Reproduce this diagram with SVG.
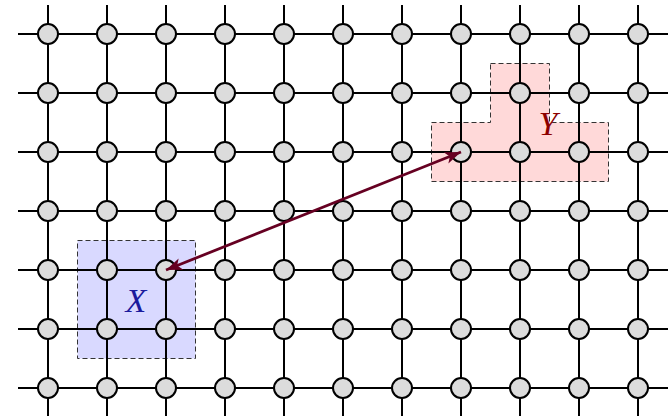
<svg xmlns="http://www.w3.org/2000/svg" width="671" height="416" viewBox="0 0 671 416">
<style>
.g{stroke:#000;stroke-width:2;fill:none}
.n{fill:#dcdcdc;stroke:#000;stroke-width:2}
.box{stroke:#333;stroke-width:1;stroke-dasharray:5 3}
.lbl{font-family:"Liberation Serif","DejaVu Serif",serif;font-style:italic;font-size:34px;text-anchor:middle}
</style>
<defs>
<marker id="ah" markerUnits="userSpaceOnUse" markerWidth="18" markerHeight="14" refX="16" refY="6" orient="auto-start-reverse">
<path d="M0,0 L16,6 L0,12 L4,6 z" fill="#660022"/>
</marker>
</defs>
<g id="regions">
<rect id="regionX" class="box" x="77.5" y="240.5" width="118" height="118" fill="#d9d9ff"/>
<polygon id="regionY" class="box" points="490.5,63.5 549.5,63.5 549.5,122.5 608.5,122.5 608.5,181.5 431.5,181.5 431.5,122.5 490.5,122.5" fill="#ffd9d9"/>
</g>
<g id="connectors" class="g">
<path d="M18,34H668M18,93H668M18,152H668M18,211H668M18,270H668M18,329H668M18,388H668"/>
<path d="M48,5V416M107,5V416M166,5V416M225,5V416M284,5V416M343,5V416M402,5V416M461,5V416M520,5V416M579,5V416M638,5V416"/>
</g>
<g id="nodes">
<g id="n0_0"><circle class="n" cx="48" cy="34" r="10"/></g>
<g id="n0_1"><circle class="n" cx="107" cy="34" r="10"/></g>
<g id="n0_2"><circle class="n" cx="166" cy="34" r="10"/></g>
<g id="n0_3"><circle class="n" cx="225" cy="34" r="10"/></g>
<g id="n0_4"><circle class="n" cx="284" cy="34" r="10"/></g>
<g id="n0_5"><circle class="n" cx="343" cy="34" r="10"/></g>
<g id="n0_6"><circle class="n" cx="402" cy="34" r="10"/></g>
<g id="n0_7"><circle class="n" cx="461" cy="34" r="10"/></g>
<g id="n0_8"><circle class="n" cx="520" cy="34" r="10"/></g>
<g id="n0_9"><circle class="n" cx="579" cy="34" r="10"/></g>
<g id="n0_10"><circle class="n" cx="638" cy="34" r="10"/></g>
<g id="n1_0"><circle class="n" cx="48" cy="93" r="10"/></g>
<g id="n1_1"><circle class="n" cx="107" cy="93" r="10"/></g>
<g id="n1_2"><circle class="n" cx="166" cy="93" r="10"/></g>
<g id="n1_3"><circle class="n" cx="225" cy="93" r="10"/></g>
<g id="n1_4"><circle class="n" cx="284" cy="93" r="10"/></g>
<g id="n1_5"><circle class="n" cx="343" cy="93" r="10"/></g>
<g id="n1_6"><circle class="n" cx="402" cy="93" r="10"/></g>
<g id="n1_7"><circle class="n" cx="461" cy="93" r="10"/></g>
<g id="n1_8"><circle class="n" cx="520" cy="93" r="10"/></g>
<g id="n1_9"><circle class="n" cx="579" cy="93" r="10"/></g>
<g id="n1_10"><circle class="n" cx="638" cy="93" r="10"/></g>
<g id="n2_0"><circle class="n" cx="48" cy="152" r="10"/></g>
<g id="n2_1"><circle class="n" cx="107" cy="152" r="10"/></g>
<g id="n2_2"><circle class="n" cx="166" cy="152" r="10"/></g>
<g id="n2_3"><circle class="n" cx="225" cy="152" r="10"/></g>
<g id="n2_4"><circle class="n" cx="284" cy="152" r="10"/></g>
<g id="n2_5"><circle class="n" cx="343" cy="152" r="10"/></g>
<g id="n2_6"><circle class="n" cx="402" cy="152" r="10"/></g>
<g id="n2_7"><circle class="n" cx="461" cy="152" r="10"/></g>
<g id="n2_8"><circle class="n" cx="520" cy="152" r="10"/></g>
<g id="n2_9"><circle class="n" cx="579" cy="152" r="10"/></g>
<g id="n2_10"><circle class="n" cx="638" cy="152" r="10"/></g>
<g id="n3_0"><circle class="n" cx="48" cy="211" r="10"/></g>
<g id="n3_1"><circle class="n" cx="107" cy="211" r="10"/></g>
<g id="n3_2"><circle class="n" cx="166" cy="211" r="10"/></g>
<g id="n3_3"><circle class="n" cx="225" cy="211" r="10"/></g>
<g id="n3_4"><circle class="n" cx="284" cy="211" r="10"/></g>
<g id="n3_5"><circle class="n" cx="343" cy="211" r="10"/></g>
<g id="n3_6"><circle class="n" cx="402" cy="211" r="10"/></g>
<g id="n3_7"><circle class="n" cx="461" cy="211" r="10"/></g>
<g id="n3_8"><circle class="n" cx="520" cy="211" r="10"/></g>
<g id="n3_9"><circle class="n" cx="579" cy="211" r="10"/></g>
<g id="n3_10"><circle class="n" cx="638" cy="211" r="10"/></g>
<g id="n4_0"><circle class="n" cx="48" cy="270" r="10"/></g>
<g id="n4_1"><circle class="n" cx="107" cy="270" r="10"/></g>
<g id="n4_2"><circle class="n" cx="166" cy="270" r="10"/></g>
<g id="n4_3"><circle class="n" cx="225" cy="270" r="10"/></g>
<g id="n4_4"><circle class="n" cx="284" cy="270" r="10"/></g>
<g id="n4_5"><circle class="n" cx="343" cy="270" r="10"/></g>
<g id="n4_6"><circle class="n" cx="402" cy="270" r="10"/></g>
<g id="n4_7"><circle class="n" cx="461" cy="270" r="10"/></g>
<g id="n4_8"><circle class="n" cx="520" cy="270" r="10"/></g>
<g id="n4_9"><circle class="n" cx="579" cy="270" r="10"/></g>
<g id="n4_10"><circle class="n" cx="638" cy="270" r="10"/></g>
<g id="n5_0"><circle class="n" cx="48" cy="329" r="10"/></g>
<g id="n5_1"><circle class="n" cx="107" cy="329" r="10"/></g>
<g id="n5_2"><circle class="n" cx="166" cy="329" r="10"/></g>
<g id="n5_3"><circle class="n" cx="225" cy="329" r="10"/></g>
<g id="n5_4"><circle class="n" cx="284" cy="329" r="10"/></g>
<g id="n5_5"><circle class="n" cx="343" cy="329" r="10"/></g>
<g id="n5_6"><circle class="n" cx="402" cy="329" r="10"/></g>
<g id="n5_7"><circle class="n" cx="461" cy="329" r="10"/></g>
<g id="n5_8"><circle class="n" cx="520" cy="329" r="10"/></g>
<g id="n5_9"><circle class="n" cx="579" cy="329" r="10"/></g>
<g id="n5_10"><circle class="n" cx="638" cy="329" r="10"/></g>
<g id="n6_0"><circle class="n" cx="48" cy="388" r="10"/></g>
<g id="n6_1"><circle class="n" cx="107" cy="388" r="10"/></g>
<g id="n6_2"><circle class="n" cx="166" cy="388" r="10"/></g>
<g id="n6_3"><circle class="n" cx="225" cy="388" r="10"/></g>
<g id="n6_4"><circle class="n" cx="284" cy="388" r="10"/></g>
<g id="n6_5"><circle class="n" cx="343" cy="388" r="10"/></g>
<g id="n6_6"><circle class="n" cx="402" cy="388" r="10"/></g>
<g id="n6_7"><circle class="n" cx="461" cy="388" r="10"/></g>
<g id="n6_8"><circle class="n" cx="520" cy="388" r="10"/></g>
<g id="n6_9"><circle class="n" cx="579" cy="388" r="10"/></g>
<g id="n6_10"><circle class="n" cx="638" cy="388" r="10"/></g>
</g>
<g id="distance">
<line x1="166" y1="270" x2="461" y2="152" stroke="#660022" stroke-width="2.8" marker-start="url(#ah)" marker-end="url(#ah)"/>
</g>
<g id="labels">
<text class="lbl" x="136" y="312" fill="#1a1a9c">X</text>
<text class="lbl" x="548" y="135" fill="#8c0000">Y</text>
</g>
</svg>
